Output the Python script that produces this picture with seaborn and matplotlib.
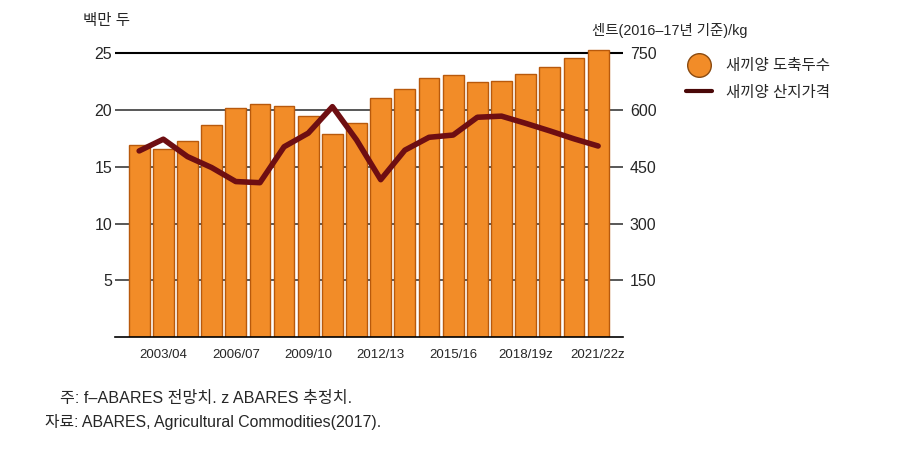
import numpy as np
import pandas as pd
import matplotlib
matplotlib.use("Agg")
import matplotlib.pyplot as plt
import seaborn as sns
from matplotlib.lines import Line2D

# ==========================================================
# DATA
# ==========================================================

years = [
    "2002/03", "2003/04", "2004/05", "2005/06", "2006/07", "2007/08",
    "2008/09", "2009/10", "2010/11", "2011/12", "2012/13", "2013/14",
    "2014/15", "2015/16", "2016/17", "2017/18f", "2018/19z", "2019/20z",
    "2020/21z", "2021/22z",
]
slaughter = [
    16.9, 16.6, 17.3, 18.7, 20.2, 20.5, 20.4, 19.5, 17.9, 18.85,
    21.05, 21.9, 22.85, 23.1, 22.5, 22.6, 23.2, 23.8, 24.55, 25.3,
]
price = [
    492, 523, 477, 448, 411, 408, 503, 539, 609, 521,
    416, 494, 528, 534, 581, 584, 565, 545, 524, 505,
]
shown_labels = ["2003/04", "2006/07", "2009/10", "2012/13",
                "2015/16", "2018/19z", "2021/22z"]

left_ticks = [5, 10, 15, 20, 25]
right_ticks = [150, 300, 450, 600, 750]

df = pd.DataFrame({"year": years, "pos": np.arange(len(years)),
                   "slaughter": slaughter, "price": price})

# ==========================================================
# STYLE
# ==========================================================

sns.set_style("white")
plt.rcParams["font.family"] = ["Liberation Sans", "Noto Sans CJK KR", "DejaVu Sans"]

bar_color = "#F28C28"
edge_color = "#B8590C"
line_color = "#6E0E12"

fig = plt.figure(figsize=(8.98, 4.62), dpi=100)
ax = fig.add_axes([115 / 898, 1 - 337 / 462, 508 / 898, (337 - 42) / 462])

# gridlines behind bars
for t in left_ticks:
    ax.axhline(t, color="black" if t == 25 else "#4a4a4a",
               lw=1.5 if t == 25 else 1.3, zorder=0)

sns.barplot(data=df, x="pos", y="slaughter", color=bar_color,
            edgecolor=edge_color, linewidth=1.0, width=0.86,
            saturation=1, ax=ax, zorder=2)

ax.set_xlim(-1, 20.03)
ax.set_ylim(0, 26)
ax.set_yticks(left_ticks)
ax.set_yticklabels([str(t) for t in left_ticks], fontsize=11.5)
ax.tick_params(axis="y", length=0, pad=2)

ax.set_xticks(range(len(years)))
ax.set_xticklabels([y if y in shown_labels else "" for y in years],
                   fontsize=9.5, family=["Liberation Sans Narrow", "Liberation Sans"])
ax.tick_params(axis="x", length=4, width=1, color="black", direction="out", pad=5)
ax.set_xlabel("")
ax.set_ylabel("")

for s in ["top", "left", "right"]:
    ax.spines[s].set_visible(False)
ax.spines["bottom"].set_color("black")
ax.spines["bottom"].set_linewidth(1.2)

# price line on the right axis
ax2 = ax.twinx()
sns.lineplot(data=df, x="pos", y="price", color=line_color, lw=4,
             ax=ax2, zorder=3)
ax2.set_ylim(0, 26 * 30)
ax2.set_yticks(right_ticks)
ax2.set_yticklabels([str(t) for t in right_ticks], fontsize=11.5)
ax2.tick_params(axis="y", length=0, pad=5)
ax2.set_xlabel("")
ax2.set_ylabel("")
for s in ax2.spines.values():
    s.set_visible(False)

# ==========================================================
# TEXT
# ==========================================================

fig.text(83 / 898, 1 - 20 / 462, "백만 두", fontsize=11.2, va="center", ha="left")
fig.text(592 / 898, 1 - 31 / 462, "센트(2016–17년 기준)/kg", fontsize=10.4,
         va="center", ha="left")

# legend
leg_handles = [
    Line2D([], [], marker="o", ls="none", markersize=17,
           markerfacecolor=bar_color, markeredgecolor="#8a4a10", markeredgewidth=1),
    Line2D([], [], color="#4a0808", lw=3),
]
fig.legend(leg_handles, ["새끼양 도축두수", "새끼양 산지가격"],
           loc="upper left", bbox_to_anchor=(672 / 898, 1 - 44 / 462),
           frameon=False, fontsize=11.2, handlelength=1.7,
           labelspacing=0.75, handletextpad=0.9)

fig.text(60 / 898, 1 - 398 / 462, "주: f–ABARES 전망치. z ABARES 추정치.",
         fontsize=11.6, va="center", ha="left")
fig.text(45 / 898, 1 - 422 / 462, "자료: ABARES, Agricultural Commodities(2017).",
         fontsize=11.4, va="center", ha="left")

fig.savefig("out.png", dpi=100)
